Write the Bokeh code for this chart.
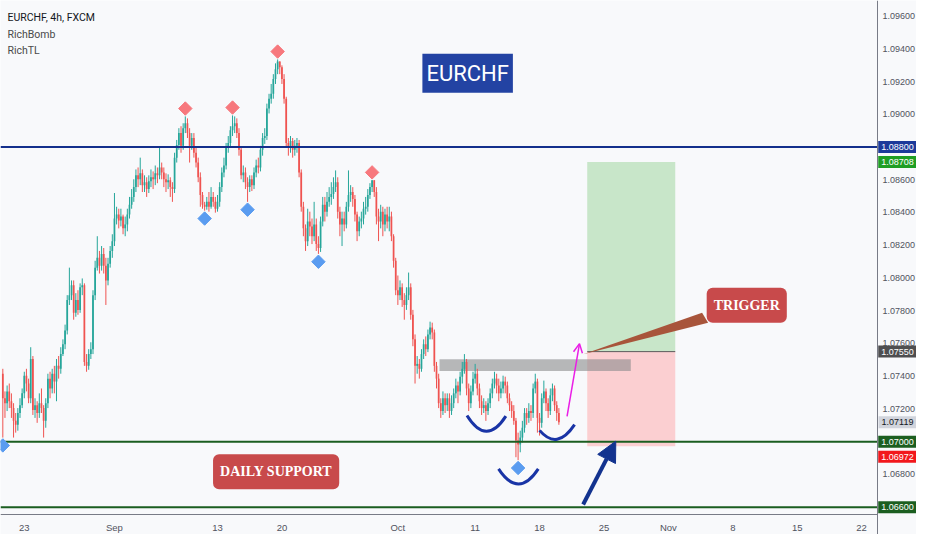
import numpy as np
import pandas as pd
from bokeh.plotting import figure
from bokeh.models import (FixedTicker, NumeralTickFormatter, Label, Arrow, NormalHead,
                          OpenHead, ColumnDataSource)
from bokeh.embed import file_html
from bokeh.resources import INLINE

# ---------------- data (EURCHF 4h, FXCM) ----------------
first_bar_time = "2021-08-19 08:00"
first_open = 1.07415

closes = [
    1.07265, 1.07235, 1.07307, 1.07247, 1.07205, 1.07127, 1.07103, 1.07175, 1.07223, 1.07295,
    1.07403, 1.07355, 1.07265, 1.07505, 1.07193, 1.07223, 1.07175, 1.07235, 1.07205, 1.07127,
    1.07235, 1.07385, 1.07325, 1.07415, 1.07367, 1.07463, 1.07445, 1.07535, 1.07595, 1.07679,
    1.07865, 1.07895, 1.07955, 1.07787, 1.07865, 1.07805, 1.07943, 1.07955, 1.07487, 1.07463,
    1.07535, 1.07565, 1.07895, 1.08063, 1.08123, 1.08075, 1.08147, 1.08075, 1.07985, 1.08087,
    1.08165, 1.08225, 1.08363, 1.08387, 1.08351, 1.08375, 1.08303, 1.08327, 1.08387, 1.08447,
    1.08495, 1.08555, 1.08627, 1.08603, 1.08639, 1.08567, 1.08585, 1.08543, 1.08591, 1.08615,
    1.08603, 1.08639, 1.08627, 1.08675, 1.08645, 1.08603, 1.08585, 1.08597, 1.08555, 1.08543,
    1.08735, 1.08813, 1.08885, 1.08807, 1.08915, 1.08945, 1.08885, 1.08807, 1.08855, 1.08765,
    1.08705, 1.08615, 1.08507, 1.08447, 1.08435, 1.08465, 1.08435, 1.08495, 1.08465, 1.08423,
    1.08465, 1.08555, 1.08645, 1.08687, 1.08795, 1.08825, 1.08903, 1.08927, 1.08945, 1.08885,
    1.08783, 1.08627, 1.08645, 1.08585, 1.08555, 1.08603, 1.08567, 1.08645, 1.08687, 1.08675,
    1.08783, 1.08855, 1.08867, 1.09035, 1.09095, 1.09125, 1.09215, 1.09275, 1.09323, 1.09287,
    1.09215, 1.09095, 1.08825, 1.08795, 1.08837, 1.08783, 1.08807, 1.08825, 1.08645, 1.08435,
    1.08303, 1.08225, 1.08345, 1.08315, 1.08255, 1.08327, 1.08207, 1.08183, 1.08345, 1.08447,
    1.08405, 1.08465, 1.08495, 1.08513, 1.08555, 1.08585, 1.08405, 1.08327, 1.08363, 1.08327,
    1.08435, 1.08507, 1.08525, 1.08483, 1.08387, 1.08285, 1.08345, 1.08363, 1.08423, 1.08435,
    1.08507, 1.08555, 1.08597, 1.08525, 1.08375, 1.08345, 1.08405, 1.08327, 1.08387, 1.08345,
    1.08375, 1.08255, 1.08105, 1.07925, 1.07895, 1.07943, 1.07865, 1.07835, 1.07895, 1.07943,
    1.07775, 1.07625, 1.07463, 1.07475, 1.07445, 1.07535, 1.07595, 1.07565, 1.07655, 1.07697,
    1.07667, 1.07463, 1.07385, 1.07235, 1.07187, 1.07265, 1.07223, 1.07265, 1.07187, 1.07235,
    1.07295, 1.07343, 1.07307, 1.07397, 1.07445, 1.07487, 1.07325, 1.07235, 1.07307, 1.07385,
    1.07415, 1.07325, 1.07247, 1.07205, 1.07223, 1.07187, 1.07235, 1.07295, 1.07355, 1.07385,
    1.07343, 1.07295, 1.07325, 1.07367, 1.07343, 1.07265, 1.07223, 1.07187, 1.07127, 1.07007,
    1.06983, 1.07025, 1.07085, 1.07175, 1.07145, 1.07187, 1.07175, 1.07325, 1.07367, 1.07145,
    1.07115, 1.07265, 1.07307, 1.07235, 1.07187, 1.07283, 1.07325, 1.07223, 1.07175, 1.07119,
]

highs = [
    1.07445, 1.07307, 1.07343, 1.07355, 1.07295, 1.07235, 1.07175, 1.07205, 1.07265, 1.07325,
    1.07427, 1.07445, 1.07385, 1.07577, 1.07523, 1.07265, 1.07247, 1.07295, 1.07325, 1.07223,
    1.07265, 1.07415, 1.07427, 1.07445, 1.07463, 1.07505, 1.07523, 1.07577, 1.07625, 1.07715,
    1.07895, 1.08063, 1.07985, 1.07985, 1.07907, 1.07925, 1.07967, 1.07997, 1.07967, 1.07535,
    1.07565, 1.07607, 1.07925, 1.08105, 1.08255, 1.08165, 1.08195, 1.08183, 1.08123, 1.08123,
    1.08195, 1.08267, 1.08519, 1.08435, 1.08423, 1.08423, 1.08387, 1.08375, 1.08423, 1.08495,
    1.08543, 1.08603, 1.08663, 1.08675, 1.08735, 1.08663, 1.08627, 1.08615, 1.08627, 1.08663,
    1.08651, 1.08687, 1.08675, 1.08795, 1.08705, 1.08675, 1.08639, 1.08633, 1.08615, 1.08585,
    1.08765, 1.08843, 1.08915, 1.08927, 1.08945, 1.08987, 1.08975, 1.08915, 1.08885, 1.08885,
    1.08795, 1.08735, 1.08645, 1.08525, 1.08465, 1.08495, 1.08525, 1.08555, 1.08525, 1.08495,
    1.08507, 1.08585, 1.08675, 1.08735, 1.08825, 1.08867, 1.08927, 1.08993, 1.08987, 1.08975,
    1.08915, 1.08795, 1.08687, 1.08675, 1.08615, 1.08627, 1.08627, 1.08675, 1.08723, 1.08735,
    1.08807, 1.08885, 1.08915, 1.09065, 1.09125, 1.09185, 1.09245, 1.09311, 1.09335, 1.09323,
    1.09299, 1.09245, 1.09107, 1.08855, 1.08867, 1.08855, 1.08843, 1.08855, 1.08843, 1.08663,
    1.08465, 1.08327, 1.08423, 1.08405, 1.08363, 1.08465, 1.08363, 1.08255, 1.08375, 1.08495,
    1.08495, 1.08525, 1.08555, 1.08585, 1.08615, 1.08657, 1.08615, 1.08435, 1.08405, 1.08405,
    1.08465, 1.08657, 1.08567, 1.08555, 1.08507, 1.08405, 1.08375, 1.08405, 1.08465, 1.08495,
    1.08543, 1.08579, 1.08597, 1.08597, 1.08555, 1.08423, 1.08447, 1.08435, 1.08423, 1.08435,
    1.08435, 1.08405, 1.08267, 1.08123, 1.08015, 1.07985, 1.07967, 1.07907, 1.07943, 1.08033,
    1.07967, 1.07805, 1.07655, 1.07523, 1.07505, 1.07565, 1.07625, 1.07643, 1.07685, 1.07733,
    1.07727, 1.07685, 1.07487, 1.07415, 1.07265, 1.07307, 1.07295, 1.07295, 1.07295, 1.07283,
    1.07325, 1.07385, 1.07367, 1.07427, 1.07487, 1.07535, 1.07505, 1.07355, 1.07343, 1.07427,
    1.07475, 1.07445, 1.07355, 1.07283, 1.07265, 1.07247, 1.07265, 1.07325, 1.07385, 1.07427,
    1.07415, 1.07385, 1.07367, 1.07403, 1.07397, 1.07367, 1.07295, 1.07247, 1.07223, 1.07145,
    1.07055, 1.07067, 1.07127, 1.07205, 1.07205, 1.07235, 1.07223, 1.07355, 1.07415, 1.07385,
    1.07175, 1.07295, 1.07373, 1.07325, 1.07265, 1.07325, 1.07355, 1.07343, 1.07247, 1.07205,
]

lows = [
    1.07025, 1.07145, 1.07187, 1.07205, 1.07145, 1.07025, 1.07055, 1.07067, 1.07145, 1.07205,
    1.07265, 1.07307, 1.07235, 1.07235, 1.07163, 1.07145, 1.07115, 1.07145, 1.07175, 1.07025,
    1.07085, 1.07205, 1.07265, 1.07295, 1.07295, 1.07247, 1.07385, 1.07415, 1.07523, 1.07565,
    1.07655, 1.07835, 1.07865, 1.07745, 1.07763, 1.07775, 1.07787, 1.07895, 1.07463, 1.07427,
    1.07439, 1.07505, 1.07535, 1.07865, 1.08045, 1.08027, 1.08045, 1.08027, 1.07835, 1.07955,
    1.08063, 1.08123, 1.08195, 1.08327, 1.08303, 1.08315, 1.08267, 1.08255, 1.08285, 1.08363,
    1.08423, 1.08465, 1.08525, 1.08555, 1.08567, 1.08525, 1.08525, 1.08495, 1.08519, 1.08555,
    1.08543, 1.08567, 1.08579, 1.08603, 1.08603, 1.08555, 1.08525, 1.08543, 1.08495, 1.08465,
    1.08519, 1.08705, 1.08783, 1.08765, 1.08783, 1.08885, 1.08855, 1.08705, 1.08783, 1.08735,
    1.08675, 1.08585, 1.08435, 1.08423, 1.08411, 1.08417, 1.08405, 1.08423, 1.08435, 1.08399,
    1.08405, 1.08435, 1.08525, 1.08615, 1.08663, 1.08765, 1.08795, 1.08867, 1.08885, 1.08855,
    1.08747, 1.08603, 1.08585, 1.08543, 1.08465, 1.08525, 1.08531, 1.08543, 1.08615, 1.08639,
    1.08651, 1.08747, 1.08819, 1.08843, 1.09005, 1.09065, 1.09095, 1.09185, 1.09245, 1.09245,
    1.09185, 1.09065, 1.08795, 1.08747, 1.08765, 1.08735, 1.08747, 1.08765, 1.08615, 1.08405,
    1.08255, 1.08165, 1.08195, 1.08255, 1.08207, 1.08225, 1.08165, 1.08147, 1.08159, 1.08315,
    1.08345, 1.08375, 1.08435, 1.08447, 1.08483, 1.08525, 1.08363, 1.08255, 1.08195, 1.08285,
    1.08303, 1.08405, 1.08465, 1.08435, 1.08345, 1.08225, 1.08255, 1.08303, 1.08327, 1.08387,
    1.08405, 1.08483, 1.08525, 1.08495, 1.08327, 1.08225, 1.08303, 1.08255, 1.08285, 1.08303,
    1.08285, 1.08225, 1.08063, 1.07895, 1.07835, 1.07865, 1.07823, 1.07745, 1.07805, 1.07865,
    1.07745, 1.07583, 1.07355, 1.07415, 1.07385, 1.07427, 1.07505, 1.07523, 1.07547, 1.07625,
    1.07625, 1.07427, 1.07325, 1.07205, 1.07145, 1.07163, 1.07175, 1.07187, 1.07145, 1.07163,
    1.07205, 1.07265, 1.07235, 1.07283, 1.07355, 1.07415, 1.07283, 1.07187, 1.07205, 1.07283,
    1.07355, 1.07283, 1.07205, 1.07163, 1.07175, 1.07127, 1.07163, 1.07205, 1.07265, 1.07325,
    1.07295, 1.07247, 1.07265, 1.07295, 1.07295, 1.07235, 1.07187, 1.07145, 1.07103, 1.06905,
    1.06887, 1.06935, 1.06995, 1.07055, 1.07103, 1.07115, 1.07127, 1.07145, 1.07295, 1.07055,
    1.07037, 1.07085, 1.07235, 1.07187, 1.07145, 1.07163, 1.07247, 1.07187, 1.07127, 1.07103,
]

# RichBomb signals (candle index into the lists above)
bomb_top_idx = [85, 107, 128, 172]
bomb_bottom_idx = [0, 94, 114, 147, 240]

# horizontal levels
level_values = [1.08800, 1.07000, 1.06600]
level_colors = ["#142f8c", "#1b5e20", "#1b5e20"]

# long position tool
entry_price = 1.07550
target_price = 1.08708
stop_price = 1.06972
position_slots = [262.2, 303.2]

# grey breakout zone
zone_slots = [193.4, 282.5]
zone_prices = [1.07431, 1.07504]

# price-scale tags
tag_values = [1.08800, 1.08708, 1.07550, 1.07119, 1.07000, 1.06972, 1.06600]
tag_bg = ["#1c3a9a", "#1f9e24", "#4e4e50", "#d1d4dc", "#1b5e20", "#f2171c", "#1b5e20"]
tag_fg = ["white", "white", "white", "#131722", "white", "white", "white"]

# axis ticks
price_ticks = [1.066, 1.068, 1.070, 1.072, 1.074, 1.076, 1.078, 1.080, 1.082,
               1.084, 1.086, 1.088, 1.090, 1.092, 1.094, 1.096]
tick_dates = ["2021-08-23", "2021-09-01", "2021-09-13", "2021-09-20", "2021-10-01",
              "2021-10-11", "2021-10-18", "2021-10-25", "2021-11-01", "2021-11-08",
              "2021-11-15", "2021-11-22"]
tick_labels = ["23", "Sep", "13", "20", "Oct", "11", "18", "25", "Nov", "8", "15", "22"]

# drawings (slot, price)
smiles = {  # x0, y0, x1, y1, cx, cy
    "x0": [206.2, 220.9, 240.0], "y0": [1.07160, 1.06834, 1.07069],
    "x1": [224.3, 239.4, 256.3], "y1": [1.07156, 1.06834, 1.07104],
    "cx": [215.2, 230.2, 248.2], "cy": [1.06969, 1.06649, 1.06943],
}
magenta_arrow = (252.8, 1.07155, 258.6, 1.07599)
blue_arrow = (260.3, 1.06616, 275.5, 1.07003)
trigger_pointer_x = [315.7, 318.5, 260.3]
trigger_pointer_y = [1.07787, 1.07727, 1.07534]

# ---------------- time axis (trading-day slots, 6 bars per day) ----------------
days = pd.bdate_range("2021-08-02", "2021-12-31")
origin = days.get_loc(pd.Timestamp("2021-08-23"))


def slot(ts):
    ts = pd.Timestamp(ts)
    return (days.get_loc(ts.normalize()) - origin) * 6 + ts.hour / 4


n = len(closes)
xs = slot(first_bar_time) + np.arange(n)
opens = [first_open] + closes[:-1]
up = [c >= o for o, c in zip(opens, closes)]
col = ["#26a69a" if u else "#ef5350" for u in up]

src = ColumnDataSource(dict(
    x=xs, o=opens, c=closes, h=highs, l=lows,
    top=[max(o, c) for o, c in zip(opens, closes)],
    bot=[min(o, c) for o, c in zip(opens, closes)],
    col=col,
))

# ---------------- figure ----------------
# The frame covers the whole canvas; both scales are drawn at fixed locations
# so that the price tags can sit on top of the price scale.
BG = "#f8f9fb"
W, H = 916, 534
PLOT_W, PLOT_H = 877, 514            # chart pane (left of / above the scales)
X0, XA = -11.08, 397.4               # visible bar slots of the chart pane
YA, Y1 = 1.06555, 1.09695            # visible prices of the chart pane
PX_PER_BAR = PLOT_W / (XA - X0)
PX_PER_PRICE = PLOT_H / (Y1 - YA)
X_END = X0 + W / PX_PER_BAR
Y_BOT = YA - (H - PLOT_H) / PX_PER_PRICE

p = figure(width=W, height=H, x_range=(X0, X_END), y_range=(Y_BOT, Y1),
           y_axis_location="right", output_backend="svg", toolbar_location=None,
           min_border_left=0, min_border_right=0, min_border_top=0, min_border_bottom=0,
           background_fill_color=BG, border_fill_color=BG, outline_line_color=None)
p.grid.visible = False

AX_COL = "#787b86"
LBL_COL = "#50535e"
p.yaxis.fixed_location = XA
p.xaxis.fixed_location = YA
p.xaxis.bounds = (X0, XA)
p.yaxis.ticker = FixedTicker(ticks=price_ticks)
p.yaxis.formatter = NumeralTickFormatter(format="0.00000")
p.xaxis.ticker = FixedTicker(ticks=[slot(d) for d in tick_dates])
p.xaxis.major_label_overrides = {slot(d): t for d, t in zip(tick_dates, tick_labels)}
for ax in (p.xaxis, p.yaxis):
    ax.axis_line_color = AX_COL
    ax.major_tick_line_color = None
    ax.minor_tick_line_color = None
    ax.major_tick_out = 0
    ax.major_tick_in = 0
    ax.minor_tick_out = 0
    ax.minor_tick_in = 0
    ax.major_label_text_color = LBL_COL
    ax.major_label_text_font = "Liberation Sans"
p.yaxis.major_label_text_font_size = "9px"
p.xaxis.major_label_text_font_size = "9.5px"
p.yaxis.major_label_standoff = 5
p.xaxis.major_label_standoff = 7

# position boxes
p.quad(left=[position_slots[0]], right=[position_slots[1]], bottom=[entry_price], top=[target_price],
       fill_color="#c8e6c9", line_color=None)
p.quad(left=[position_slots[0]], right=[position_slots[1]], bottom=[stop_price], top=[entry_price],
       fill_color="#fbcfd1", line_color=None)
p.segment(x0=[position_slots[0]], x1=[position_slots[1]], y0=[entry_price], y1=[entry_price],
          line_color="#5a5a5a", line_width=1)

# grey zone
p.quad(left=[zone_slots[0]], right=[zone_slots[1]], bottom=[zone_prices[0]], top=[zone_prices[1]],
       fill_color="#8a8a8c", fill_alpha=0.6, line_color=None)

# candles
p.segment(x0="x", x1="x", y0="h", y1="l", line_color="col", line_width=1, source=src)
p.vbar(x="x", top="top", bottom="bot", width=0.8, fill_color="col", line_color=None, source=src)

# levels (across the chart pane)
p.segment(x0=[X0] * len(level_values), x1=[XA] * len(level_values),
          y0=level_values, y1=level_values, line_color=level_colors, line_width=2)

# RichBomb diamonds
p.scatter(x=[xs[i] for i in bomb_top_idx], y=[highs[i] + 0.00048 for i in bomb_top_idx],
          marker="square", angle=np.pi / 4, size=9.5, fill_color="#f7787d", line_color="#f7787d")
p.scatter(x=[xs[i] for i in bomb_bottom_idx], y=[lows[i] - 0.00048 for i in bomb_bottom_idx],
          marker="square", angle=np.pi / 4, size=9.5, fill_color="#5a9cf0", line_color="#5a9cf0")

# smiles
p.quadratic(x0=smiles["x0"], y0=smiles["y0"], x1=smiles["x1"], y1=smiles["y1"],
            cx=smiles["cx"], cy=smiles["cy"], line_color="#1934a6", line_width=3)

# arrows
mx0, my0, mx1, my1 = magenta_arrow
p.add_layout(Arrow(end=OpenHead(size=9, line_color="#ea1ee6", line_width=1.5),
                   x_start=mx0, y_start=my0, x_end=mx1, y_end=my1,
                   line_color="#ea1ee6", line_width=1.5))
bx0, by0, bx1, by1 = blue_arrow
p.add_layout(Arrow(end=NormalHead(size=20, fill_color="#13338f", line_color="#13338f"),
                   x_start=bx0, y_start=by0, x_end=bx1, y_end=by1,
                   line_color="#13338f", line_width=4))

# trigger pointer
p.patch(trigger_pointer_x, trigger_pointer_y, fill_color="#a8553b", line_color=None)

# text boxes
p.add_layout(Label(x=336.5, y=1.07834, text="TRIGGER", text_align="center", text_baseline="middle",
                   text_color="white", text_font="Liberation Serif", text_font_style="bold",
                   text_font_size="14px", background_fill_color="#c84a4b", border_radius=6,
                   padding=dict(left=7, right=7, top=10, bottom=10)))
p.add_layout(Label(x=117.3, y=1.06816, text="DAILY SUPPORT", text_align="center", text_baseline="middle",
                   text_color="white", text_font="Liberation Serif", text_font_style="bold",
                   text_font_size="14px", background_fill_color="#c84a4b", border_radius=6,
                   padding=dict(left=7, right=7, top=10, bottom=10)))
p.add_layout(Label(x=206.5, y=1.09251, text="EURCHF", text_align="center", text_baseline="middle",
                   text_color="white", text_font="Roboto", text_font_size="22px",
                   background_fill_color="#2343a3",
                   padding=dict(left=4, right=4, top=7, bottom=7)))

# legend texts (top-left)
for txt, yy, colr in [("EURCHF, 4h, FXCM", 1.09592, "#131722"),
                      ("RichBomb", 1.09490, "#4a4a4a"),
                      ("RichTL", 1.09387, "#4a4a4a")]:
    p.add_layout(Label(x=X0 + 7 / PX_PER_BAR, y=yy, text=txt, text_align="left", text_baseline="middle",
                       text_color=colr, text_font="Roboto", text_font_size="10.5px"))

# price-scale tags on top of the price scale (stacked so they never overlap)
TAG_H = 15
tag_x = XA + ((W - PLOT_W) / 2 + 0.5) / PX_PER_BAR
prev_px = -1e9
for v, bg, fg in sorted(zip(tag_values, tag_bg, tag_fg), key=lambda t: -t[0]):
    px = (Y1 - v) * PX_PER_PRICE
    px = max(px, prev_px + TAG_H)
    prev_px = px
    p.add_layout(Label(x=tag_x, y=Y1 - px / PX_PER_PRICE, text=f"{v:.5f}",
                       text_align="center", text_baseline="middle",
                       text_color=fg, text_font="Liberation Sans", text_font_size="9px",
                       background_fill_color=bg,
                       padding=dict(left=3, right=3, top=3, bottom=3)))

open("out.html", "w").write(file_html(p, INLINE))
